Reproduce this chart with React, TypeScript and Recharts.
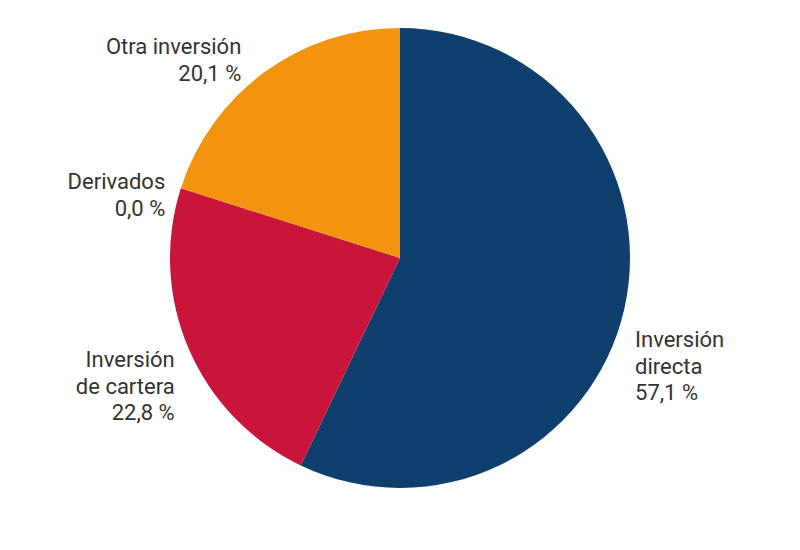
import React from "react";
import { PieChart, Pie, Cell } from "recharts";

const categories = ["Inversión directa", "Inversión de cartera", "Derivados", "Otra inversión"];
const values = [57.1, 22.8, 0.0, 20.1];
const labelLines = [["Inversión", "directa"], ["Inversión", "de cartera"], ["Derivados"], ["Otra inversión"]];
const colors = ["#0e3f6d", "#c9143b", "#c9143b", "#f2940f"];
// label placement tweaks (dx along x, dy for first baseline)
const labelDx = [1, -5, -6, -17];
const labelDy = [36, 14, 4, -10];

const data = categories.map((name, i) => ({ name, value: values[i], idx: i }));

const RAD = Math.PI / 180;

const renderLabel = (props: any) => {
  const { cx, cy, outerRadius, midAngle, index } = props;
  const r = outerRadius + 10;
  const px = cx + r * Math.cos(-midAngle * RAD);
  const py = cy + r * Math.sin(-midAngle * RAD);
  const right = px > cx;
  const x = px + labelDx[index];
  const y = py + labelDy[index];
  const lines = [...labelLines[index], values[index].toFixed(1).replace(".", ",") + " %"];
  return (
    <text
      x={x}
      y={y}
      textAnchor={right ? "start" : "end"}
      fill="#333333"
      fontSize={22}
      fontFamily="Roboto, sans-serif"
    >
      {lines.map((l, i) => (
        <tspan key={i} x={x} y={y + i * 26.5}>
          {l}
        </tspan>
      ))}
    </text>
  );
};

export default function App() {
  return (
    <PieChart width={800} height={550}>
      <Pie
        data={data}
        dataKey="value"
        nameKey="name"
        cx={387}
        cy={245}
        outerRadius={230}
        startAngle={90}
        endAngle={-270}
        stroke="none"
        label={renderLabel}
        labelLine={false}
        isAnimationActive={false}
      >
        {data.map((d, i) => (
          <Cell key={d.name} fill={colors[i]} />
        ))}
      </Pie>
    </PieChart>
  );
}
